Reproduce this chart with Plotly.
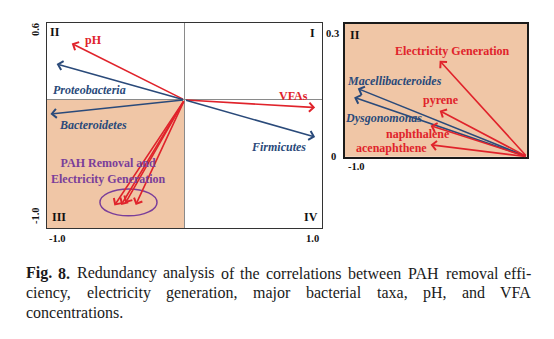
import plotly.graph_objects as go

# ---- RDA ordination (left panel, axes RDA1 x RDA2) ----
env_names = ["pH", "VFAs"]
env_x = [-0.82, 0.95]
env_y = [0.44, -0.06]

taxa_names = ["Proteobacteria", "Bacteroidetes", "Firmicutes"]
taxa_x = [-0.93, -0.975, 0.95]
taxa_y = [0.28, -0.11, -0.29]

# PAH removal (acenaphthene, naphthalene, pyrene) and electricity generation
resp_x = [-0.51, -0.46, -0.43, -0.355]
resp_y = [-0.825, -0.82, -0.805, -0.82]

# ---- enlarged quadrant II view (right panel) ----
resp2_names = ["Electricity Generation", "pyrene", "naphthalene", "acenaphthene"]
resp2_x = [-0.48, -0.48, -0.53, -0.53]
resp2_y = [0.217, 0.104, 0.070, 0.027]

genera_names = ["Macellibacteroides", "Dysgonomonas"]
genera_x = [-0.93, -0.95]
genera_y = [0.154, 0.134]

caption_lines = [
    "Fig. 8. Redundancy analysis of the correlations between PAH removal effi-",
    "ciency, electricity generation, major bacterial taxa, pH, and VFA",
    "concentrations.",
]

RED = "#E0232B"
BLUE = "#2A4A7A"
PURPLE = "#7A3E9A"
TAN = "#F0C6A6"
SERIF = "Liberation Serif"

W, H = 554, 339

# label placement (data units of each panel)
env_lab = [(-0.665, 0.47), (0.79, 0.03)]
taxa_lab = [(-0.69, 0.08), (-0.665, -0.20), (0.68, -0.37)]
resp2_lab = [(-0.41, 0.239), (-0.47, 0.128), (-0.60, 0.051), (-0.745, 0.020)]
genera_lab = [(-0.73, 0.172), (-0.79, 0.088)]

fig = go.Figure()

# invisible traces to bind the two subplots
fig.add_trace(go.Scatter(x=[None], y=[None], xaxis="x", yaxis="y", showlegend=False))
fig.add_trace(go.Scatter(x=[None], y=[None], xaxis="x2", yaxis="y2", showlegend=False))

ax_common = dict(showgrid=False, showticklabels=False, ticks="", showline=True,
                 mirror=True)

fig.update_layout(
    width=W, height=H,
    margin=dict(l=0, r=0, t=0, b=0),
    paper_bgcolor="white", plot_bgcolor="white",
    showlegend=False,
    font=dict(family=SERIF),
    xaxis=dict(domain=[47 / W, 322 / W], range=[-1, 1], zeroline=True,
               zerolinecolor="#8a8a8a", zerolinewidth=1,
               linecolor="#333333", linewidth=1.2, **ax_common),
    yaxis=dict(domain=[1 - 228 / H, 1 - 23 / H], range=[-1.0, 0.6], zeroline=True,
               zerolinecolor="#8a8a8a", zerolinewidth=1,
               linecolor="#333333", linewidth=1.2, **ax_common),
    xaxis2=dict(domain=[345 / W, 527 / W], range=[-1, 0], zeroline=False,
                anchor="y2", linecolor="#1a1a1a", linewidth=1.6, **ax_common),
    yaxis2=dict(domain=[1 - 156.7 / H, 1 - 24 / H], range=[0, 0.3], zeroline=False,
                anchor="x2", linecolor="#1a1a1a", linewidth=1.6, **ax_common),
)

shapes = [
    dict(type="rect", xref="x", yref="y", x0=-1, x1=0, y0=-1.0, y1=0,
         fillcolor=TAN, line=dict(width=0), layer="below"),
    dict(type="rect", xref="x2 domain", yref="y2 domain", x0=0, x1=1, y0=0, y1=1,
         fillcolor=TAN, line=dict(width=0), layer="below"),
    dict(type="circle", xref="x", yref="y", x0=-0.615, x1=-0.20, y0=-0.905, y1=-0.695,
         line=dict(color=PURPLE, width=1.5)),
]
fig.update_layout(shapes=shapes)

ann = []


def arrow(x, y, color, xr, yr):
    return dict(x=x, y=y, ax=0, ay=0, xref=xr, yref=yr, axref=xr, ayref=yr,
                showarrow=True, arrowhead=4, arrowsize=1.1, arrowwidth=1.6,
                arrowcolor=color, text="")


def label(text, x, y, color, xr, yr, size=12, italic=False):
    t = f"<b><i>{text}</i></b>" if italic else f"<b>{text}</b>"
    return dict(x=x, y=y, xref=xr, yref=yr, text=t, showarrow=False,
                font=dict(family=SERIF, size=size, color=color))


# left panel vectors
for n, x, y, (lx, ly) in zip(env_names, env_x, env_y, env_lab):
    ann.append(arrow(x, y, RED, "x", "y"))
    ann.append(label(n, lx, ly, RED, "x", "y", size=12))
for n, x, y, (lx, ly) in zip(taxa_names, taxa_x, taxa_y, taxa_lab):
    ann.append(arrow(x, y, BLUE, "x", "y"))
    ann.append(label(n, lx, ly, BLUE, "x", "y", size=12, italic=True))
for x, y in zip(resp_x, resp_y):
    ann.append(arrow(x, y, RED, "x", "y"))
ann.append(label("PAH Removal and<br>Electricity Generation", -0.555, -0.555,
                 PURPLE, "x", "y", size=12))

# right panel vectors
for n, x, y, (lx, ly) in zip(genera_names, genera_x, genera_y, genera_lab):
    ann.append(arrow(x, y, BLUE, "x2", "y2"))
for n, x, y, (lx, ly) in zip(resp2_names, resp2_x, resp2_y, resp2_lab):
    ann.append(arrow(x, y, RED, "x2", "y2"))
    ann.append(label(n, lx, ly, RED, "x2", "y2", size=12))
for n, (lx, ly) in zip(genera_names, genera_lab):
    ann.append(label(n, lx, ly, BLUE, "x2", "y2", size=12, italic=True))


def ptext(text, px, py, size=11, angle=0, anchor="center", color="#111111"):
    return dict(x=px / W, y=1 - py / H, xref="paper", yref="paper", text=text,
                showarrow=False, textangle=angle, xanchor=anchor, yanchor="middle",
                font=dict(family=SERIF, size=size, color=color))


# quadrant marks and axis limits
ann += [
    ptext("<b>II</b>", 55, 32, 12),
    ptext("<b>I</b>", 312, 33, 12),
    ptext("<b>III</b>", 59, 217, 12),
    ptext("<b>IV</b>", 311, 217, 12),
    ptext("<b>0.6</b>", 35, 30, 10.5, angle=-90),
    ptext("<b>-1.0</b>", 35, 216, 10.5, angle=-90),
    ptext("<b>-1.0</b>", 57, 239, 10.5),
    ptext("<b>1.0</b>", 312, 238, 10.5),
    ptext("<b>0.3</b>", 332, 34, 10.5),
    ptext("<b>0</b>", 333, 156, 10.5),
    ptext("<b>-1.0</b>", 356, 166, 10.5),
    ptext("<b>II</b>", 355, 35, 12),
]

# ---- caption: justified block set in a Times-metric serif ----
# advance widths (1/1000 em) of Times-compatible regular / bold faces
REG = dict(zip("abcdefghijklmnopqrstuvwxyz",
               [444, 500, 444, 500, 444, 333, 500, 500, 278, 278, 500, 278, 778,
                500, 500, 500, 500, 333, 389, 278, 500, 500, 722, 500, 500, 444]))
REG.update({" ": 250, ",": 250, ".": 250, "-": 333, "8": 500,
            "A": 722, "F": 556, "H": 722, "P": 556, "R": 667, "V": 722})
BOLD = {"F": 611, "i": 278, "g": 500, ".": 250, "8": 500, " ": 250}

CAP_SIZE = 16
CAP_LEFT, CAP_RIGHT = 24, 530
CAP_Y = [273, 292.5, 312]
BOLD_WORDS = {"Fig.", "8."}


def word_px(w):
    table = BOLD if w in BOLD_WORDS else REG
    return sum(table.get(c, 500) for c in w) / 1000 * CAP_SIZE


for i, (line, py) in enumerate(zip(caption_lines, CAP_Y)):
    words = line.split(" ")
    justify = i < len(caption_lines) - 1 and len(words) > 1
    widths = [word_px(w) for w in words]
    if justify:
        gap = (CAP_RIGHT - CAP_LEFT - sum(widths)) / (len(words) - 1)
    else:
        gap = REG[" "] / 1000 * CAP_SIZE
    px = CAP_LEFT
    for w, wd in zip(words, widths):
        txt = f"<b>{w}</b>" if w in BOLD_WORDS else w
        ann.append(ptext(txt, px, py, CAP_SIZE, anchor="left", color="#1a1a1a"))
        px += wd + gap

fig.update_layout(annotations=ann)
fig.write_html("out.html")
